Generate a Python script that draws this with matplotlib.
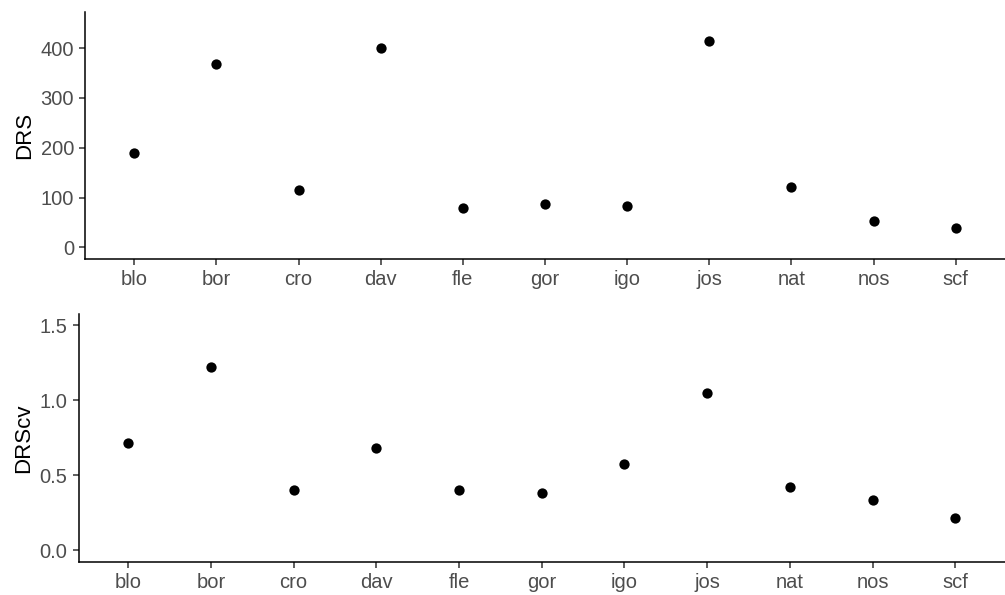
import matplotlib
matplotlib.use("Agg")
import matplotlib.pyplot as plt

plt.rcParams["font.family"] = ["Liberation Sans", "DejaVu Sans"]

sites = ["blo", "bor", "cro", "dav", "fle", "gor", "igo", "jos", "nat", "nos", "scf"]
drs = [190, 368, 116, 401, 80, 88, 83, 414, 121, 53, 39]
drs_cv = [0.716, 1.225, 0.40, 0.685, 0.40, 0.385, 0.577, 1.05, 0.425, 0.335, 0.215]

W, H = 1005, 595
TICK_GREY = "#4D4D4D"

fig = plt.figure(figsize=(W / 100, H / 100), dpi=100)


def panel(rect_px, values, ylabel, ylim, yticks, yticklabels):
    left, top, right, bottom = rect_px
    ax = fig.add_axes([left / W, 1 - bottom / H, (right - left) / W, (bottom - top) / H])
    x = list(range(len(sites)))
    ax.scatter(x, values, s=55, color="black", zorder=3, linewidths=0)
    ax.set_xlim(-0.6, len(sites) - 0.4)
    lo, hi = ylim
    pad = (hi - lo) * 0.05
    ax.set_ylim(lo - pad, hi + pad)
    ax.set_xticks(x)
    ax.set_xticklabels(sites)
    ax.set_yticks(yticks)
    ax.set_yticklabels(yticklabels)
    ax.set_ylabel(ylabel, fontsize=16, color="black", labelpad=4)
    for side in ["top", "right"]:
        ax.spines[side].set_visible(False)
    for side in ["left", "bottom"]:
        ax.spines[side].set_linewidth(1.1)
        ax.spines[side].set_color("black")
    ax.tick_params(axis="both", length=4.5, width=1.1, color="#333333",
                   labelsize=14.5, labelcolor=TICK_GREY, pad=3.5)
    return ax


panel((85, 12, 1005, 258.7), drs, "DRS", (0, 450),
      [0, 100, 200, 300, 400], ["0", "100", "200", "300", "400"])
panel((78.5, 314, 1005, 561.7), drs_cv, "DRScv", (0, 1.5),
      [0, 0.5, 1.0, 1.5], ["0.0", "0.5", "1.0", "1.5"])

fig.savefig("out.png", dpi=100, facecolor="white")
